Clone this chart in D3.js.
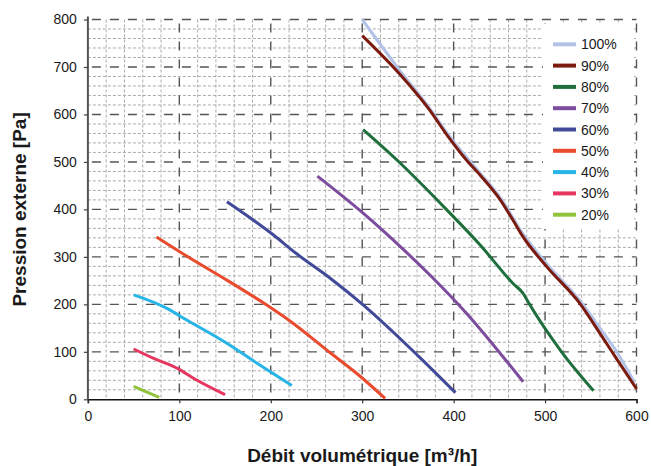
<!DOCTYPE html>
<html>
<head>
<meta charset="utf-8">
<script src="https://cdn.jsdelivr.net/npm/d3@7"></script>
<style>
  html, body { margin: 0; padding: 0; background: #fff; }
  svg { display: block; font-family: "Liberation Sans", Arial, Helvetica, sans-serif; }
</style>
</head>
<body>
<svg id="chart" width="651" height="466"></svg>
<script>
// ---- Data ----
const seriesNames = ["100%", "90%", "80%", "70%", "60%", "50%", "40%", "30%", "20%"];
const seriesColors = ["#b3c3e8", "#7b1b10", "#1f6f3d", "#7d4c9e", "#414a98", "#e94b2e", "#27b4e6", "#e63760", "#91c43c"];

const s100 = [[300,800],[341,693],[373,615],[393,560],[430,474],[451,425],[476,348],[502,285],[538,208],[560,150],[580,95],[598,35]];
const s90  = [[300,766],[341,685],[373,611],[393,556],[414,504],[430,470],[451,420],[465,377],[476,342],[502,279],[538,202],[560,139],[579,83],[600,22]];
const s80  = [[301,568],[338,504],[392,400],[429,325],[465,244],[476,223],[483,200],[518,100],[553,18]];
const s70  = [[251,470],[301,392],[342,321],[376,258],[414,181],[447,106],[476,37]];
const s60  = [[152,416],[203,346],[228,307],[265,255],[301,199],[362,90],[402,14]];
const s50  = [[75,342],[112,297],[152,251],[196,198],[221,165],[265,98],[298,48],[325,2]];
const s40  = [[50,220],[88,190],[101,175],[152,118],[185,76],[223,29]];
const s30  = [[50,106],[72,86],[99,64],[115,45],[150,10]];
const s20  = [[50,27],[78,4]];
const seriesValues = [s100, s90, s80, s70, s60, s50, s40, s30, s20];

const xTicks = [0, 100, 200, 300, 400, 500, 600];
const yTicks = [0, 100, 200, 300, 400, 500, 600, 700, 800];
const xTitle = "Débit volumétrique [m³/h]";
const yTitle = "Pression externe [Pa]";

// ---- Layout ----
const svg = d3.select("#chart");
const x = d3.scaleLinear().domain([0, 600]).range([87.9, 636.5]);
const y = d3.scaleLinear().domain([0, 800]).range([399.3, 19.5]);

// Minor grid (every 20)
const minorX = d3.range(20, 600, 20).filter(v => v % 100 !== 0);
const minorY = d3.range(20, 800, 20).filter(v => v % 100 !== 0);
const grid = svg.append("g");
grid.selectAll(".mx").data(minorX).join("line")
  .attr("x1", d => x(d)).attr("x2", d => x(d))
  .attr("y1", y(800)).attr("y2", y(0))
  .attr("stroke", "#ababab").attr("stroke-width", 1).attr("stroke-dasharray", "3,2");
grid.selectAll(".my").data(minorY).join("line")
  .attr("x1", x(0)).attr("x2", x(600))
  .attr("y1", d => y(d)).attr("y2", d => y(d))
  .attr("stroke", "#ababab").attr("stroke-width", 1).attr("stroke-dasharray", "3,2");

// Major grid (every 100), dashed
grid.selectAll(".Mx").data(xTicks.filter(v => v > 0)).join("line")
  .attr("x1", d => x(d)).attr("x2", d => x(d))
  .attr("y1", y(800)).attr("y2", y(0))
  .attr("stroke", "#555").attr("stroke-width", 1.4).attr("stroke-dasharray", "9,9")
  .attr("stroke-dashoffset", -4);
grid.selectAll(".My").data(yTicks.filter(v => v > 0)).join("line")
  .attr("x1", x(0)).attr("x2", x(600))
  .attr("y1", d => y(d)).attr("y2", d => y(d))
  .attr("stroke", "#555").attr("stroke-width", 1.4).attr("stroke-dasharray", "9,9")
  .attr("stroke-dashoffset", -4);

// Legend background (covers grid)
const legX = 543, legY = 24, legW = 91, legH = 205;
svg.append("rect").attr("x", legX).attr("y", legY).attr("width", legW).attr("height", legH).attr("fill", "#fff");

// Axes
const xAxis = d3.axisBottom(x).tickValues(xTicks).tickSize(4).tickPadding(8);
const yAxis = d3.axisLeft(y).tickValues(yTicks).tickSize(4).tickPadding(7);

const gx = svg.append("g").attr("transform", `translate(0,${y(0)})`).call(xAxis);
gx.select(".domain").attr("stroke", "#111").attr("stroke-width", 1.6);
gx.selectAll(".tick line").attr("stroke", "#333").attr("stroke-width", 1.2);
gx.selectAll("text").attr("font-size", 14).attr("fill", "#1a1a1a")
  .attr("font-family", "'Liberation Sans', Arial, sans-serif");

const gy = svg.append("g").attr("transform", `translate(${x(0)},0)`).call(yAxis);
gy.select(".domain").attr("stroke", "#555").attr("stroke-width", 2)
  .attr("d", `M0,${y(800) - 3}V${y(0)}`);
gy.selectAll(".tick line").attr("stroke", "#444").attr("stroke-width", 1.2);
gy.selectAll("text").attr("font-size", 14).attr("fill", "#1a1a1a")
  .attr("font-family", "'Liberation Sans', Arial, sans-serif");

// Series lines
const line = d3.line().x(d => x(d[0])).y(d => y(d[1])).curve(d3.curveMonotoneX);
svg.append("g").selectAll("path").data(seriesValues).join("path")
  .attr("d", d => line(d))
  .attr("fill", "none")
  .attr("stroke", (d, i) => seriesColors[i])
  .attr("stroke-width", 3)
  .attr("stroke-linejoin", "round");

// Legend
const leg = svg.append("g");
const rowStep = 21.3, row0 = 44.3;
seriesNames.forEach((name, i) => {
  const cy = row0 + i * rowStep;
  leg.append("line").attr("x1", 553).attr("x2", 576).attr("y1", cy).attr("y2", cy)
    .attr("stroke", seriesColors[i]).attr("stroke-width", 4);
  leg.append("text").attr("x", 581).attr("y", cy).attr("dy", "0.36em")
    .attr("font-size", 14).attr("fill", "#1a1a1a").text(name);
});

// Axis titles
svg.append("text").attr("x", (x(0) + x(600)) / 2).attr("y", 462)
  .attr("text-anchor", "middle").attr("font-size", 19).attr("font-weight", "bold")
  .attr("fill", "#1a1a1a").text(xTitle);
svg.append("text")
  .attr("transform", `translate(26,${(y(0) + y(800)) / 2}) rotate(-90)`)
  .attr("text-anchor", "middle").attr("font-size", 19).attr("font-weight", "bold")
  .attr("fill", "#1a1a1a").text(yTitle);
</script>
</body>
</html>
